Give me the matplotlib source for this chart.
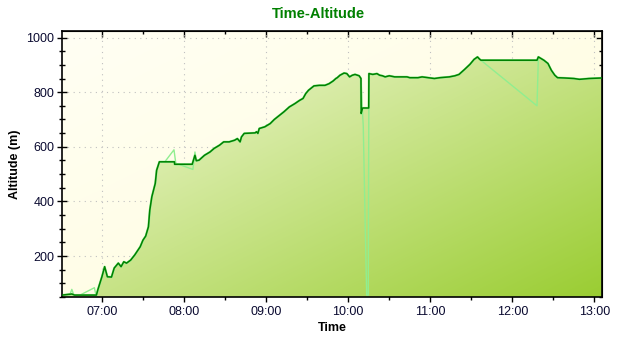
import matplotlib
matplotlib.use("Agg")
import matplotlib.pyplot as plt
from matplotlib.patches import Polygon
from matplotlib.ticker import MultipleLocator, FuncFormatter
from matplotlib.colors import to_rgb
import numpy as np

plt.rcParams["font.family"] = ["Liberation Sans", "DejaVu Sans"]

# altitude track (smoothed, dark line)
times = [
    "06:31", "06:38", "06:40", "06:56", "06:57", "07:00", "07:02", "07:04",
    "07:07", "07:09", "07:12", "07:14", "07:16", "07:18", "07:21", "07:24",
    "07:28", "07:30", "07:32", "07:34", "07:35", "07:36:30", "07:39", "07:40",
    "07:42", "07:53", "07:53:10", "08:06", "08:08", "08:09", "08:11", "08:15",
    "08:19", "08:22", "08:26", "08:29", "08:33", "08:37", "08:39", "08:41",
    "08:42", "08:44", "08:52", "08:53", "08:54", "08:55", "08:59", "09:03",
    "09:06", "09:10", "09:13", "09:17", "09:21", "09:24:30", "09:27", "09:29",
    "09:31", "09:35", "09:39", "09:43", "09:46", "09:49", "09:51", "09:52",
    "09:54", "09:57", "09:59", "10:01", "10:03", "10:05", "10:08", "10:09:20",
    "10:09:30", "10:10:30", "10:15:00", "10:15:10", "10:18", "10:21", "10:23", "10:25",
    "10:27", "10:30", "10:34", "10:43", "10:45", "10:51", "10:54", "11:03",
    "11:07", "11:14", "11:18", "11:21", "11:25", "11:29", "11:32", "11:34:30",
    "11:36", "11:37", "12:18", "12:19", "12:23", "12:26", "12:28:30", "12:31",
    "12:33", "12:38", "12:45", "12:49", "12:56", "13:05:30",
]
altitude = [
    57, 61, 57, 57, 76, 124, 161, 124,
    123, 156, 174, 161, 179, 174, 185, 204,
    234, 258, 273, 307, 368, 417, 466, 514,
    545, 545, 536, 536, 569, 549, 551, 569,
    581, 594, 606, 618, 618, 624, 630, 618,
    636, 649, 651, 655, 649, 667, 673, 685,
    700, 716, 728, 746, 758, 770, 777, 795,
    807, 823, 825, 825, 831, 841, 850, 853,
    862, 870, 868, 856, 862, 865, 860, 850,
    722, 742, 742, 868, 865, 868, 862, 860,
    856, 860, 856, 856, 853, 853, 856, 850,
    853, 856, 860, 865, 883, 902, 920, 929,
    921, 917, 917, 929, 917, 905, 880, 862,
    853, 852, 850, 847, 850, 852,
]

# raw readings where they leave the smoothed track (None = gap)
raw_times = [
    "06:36:30", "06:38", "06:39:30", None,
    "06:44", "06:54:30", "06:55:40", None,
    "07:46", "07:52:40", "07:54", "08:06:30", "08:08", "08:09", None,
    "10:09:20", "10:10:30", "10:11", "10:12:40", "10:13:30", "10:14:40", "10:15:10", None,
    "11:36", "12:18", "12:19",
]
raw_alt = [
    57, 78, 57, None,
    57, 84, 57, None,
    545, 589, 540, 517, 581, 549, None,
    850, 722, 679, 258, 57, 57, 868, None,
    921, 750, 929,
]

x_range = ["06:30:50", "13:05:30"]
y_range = [50, 1024]


def hours(s):
    if s is None:
        return np.nan
    parts = [int(p) for p in s.split(":")] + [0]
    return parts[0] + parts[1] / 60 + parts[2] / 3600


def gradient(c0, c1, n=200):
    u = np.linspace(0, 1, 2 * n)[None, :]
    v = np.linspace(0, 1, n)[:, None]
    t = (u + v) / 2
    a, b = np.array(to_rgb(c0)), np.array(to_rgb(c1))
    return a + t[..., None] * (b - a)


t = np.array([hours(s) for s in times])
alt = np.array(altitude, dtype=float)
rt = np.array([hours(s) for s in raw_times])
ra = np.array([np.nan if a is None else a for a in raw_alt], dtype=float)
x0, x1 = hours(x_range[0]), hours(x_range[1])
y0, y1 = y_range

fig = plt.figure(figsize=(6.24, 3.44), dpi=100)
ax = fig.add_axes([62 / 624, 1 - 297 / 344, 540 / 624, 266 / 344])
ext = [x0, x1, y0, y1]

# background and gradient fill under the track
ax.imshow(gradient("#FFFFF4", "#FFFCDA"), extent=ext, origin="upper",
          aspect="auto", zorder=0)
verts = list(zip(t, alt)) + [(t[-1], y0 - 50), (t[0], y0 - 50)]
clip = Polygon(verts, closed=True, facecolor="none", edgecolor="none",
               transform=ax.transData)
ax.add_patch(clip)
fill = ax.imshow(gradient("#FAFCE6", "#9ACD32"), extent=ext, origin="upper",
                 aspect="auto", zorder=1)
fill.set_clip_path(clip)

ax.plot(t, alt, color="#90EE90", linewidth=1.6, zorder=2)
ax.plot(rt, ra, color="#90EE90", linewidth=1.0, zorder=2)
ax.plot(t, alt, color="#008000", linewidth=1.1, zorder=3)

ax.set_xlim(x0, x1)
ax.set_ylim(y0, y1)

ax.xaxis.set_major_locator(MultipleLocator(1))
ax.xaxis.set_minor_locator(MultipleLocator(0.5))
ax.xaxis.set_major_formatter(FuncFormatter(lambda v, p: f"{int(round(v)):02d}:00"))
ax.yaxis.set_major_locator(MultipleLocator(200))
ax.yaxis.set_minor_locator(MultipleLocator(50))

label_col = "#0a0a30"
ax.tick_params(which="major", direction="inout", length=7, width=1,
               labelsize=9, labelcolor=label_col)
ax.tick_params(which="minor", direction="inout", length=5, width=1)
ax.tick_params(axis="x", pad=3)
ax.tick_params(axis="y", pad=2)

secx = ax.secondary_xaxis("top")
secx.xaxis.set_major_locator(MultipleLocator(1))
secx.xaxis.set_minor_locator(MultipleLocator(0.5))
secx.tick_params(which="major", direction="in", length=4, width=1, labeltop=False)
secx.tick_params(which="minor", direction="in", length=2.5, width=1)
secy = ax.secondary_yaxis("right")
secy.yaxis.set_major_locator(MultipleLocator(200))
secy.yaxis.set_minor_locator(MultipleLocator(50))
secy.tick_params(which="major", direction="in", length=4, width=1, labelright=False)
secy.tick_params(which="minor", direction="in", length=2.5, width=1)

ax.set_axisbelow(True)
ax.grid(which="major", linestyle=(0, (1, 4)), linewidth=0.8, color="#C0C0C0")
for s in ax.spines.values():
    s.set_linewidth(1.2)

ax.set_xlabel("Time", fontsize=9, fontweight="bold", labelpad=3)
ax.set_ylabel("Altitude (m)", fontsize=9, fontweight="bold", labelpad=4)
fig.text(0.51, 1 - 14 / 344, "Time-Altitude", ha="center", va="center",
         fontsize=10.5, fontweight="bold", color="#008000")

fig.savefig("out.png", dpi=100)
